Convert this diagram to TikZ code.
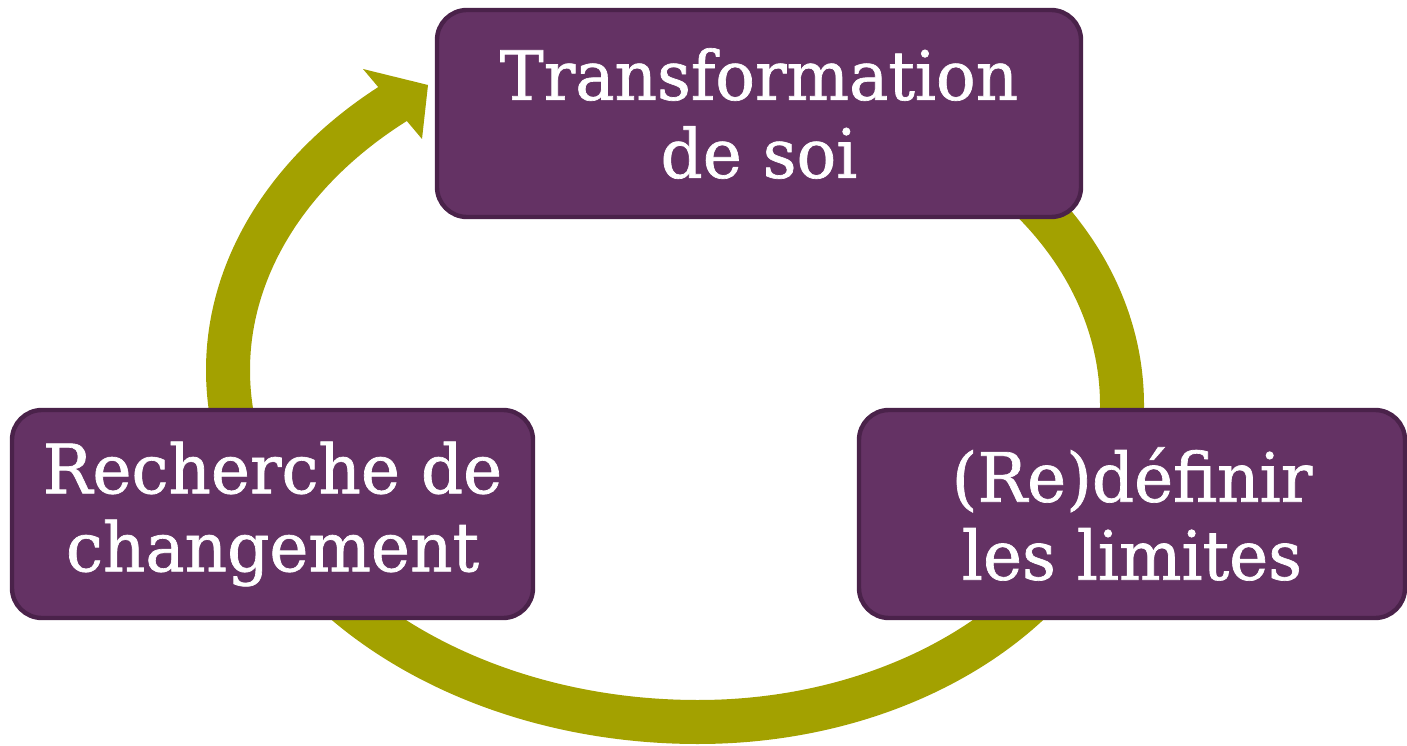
\documentclass[tikz,border=0pt]{standalone}
\usepackage{fontspec}
\setmainfont{DejaVu Serif}[FakeStretch=0.97, FakeBold=1]
\definecolor{boxfill}{RGB}{100,50,100}
\definecolor{boxline}{RGB}{74,34,74}
\definecolor{ringcol}{RGB}{163,161,0}
\begin{document}
\begin{tikzpicture}[x=0.5pt,y=0.5pt,
  stagebox/.style={draw=boxline, fill=boxfill, line width=2.2pt, rounded corners=15pt,
    text=white, align=center, font=\fontsize{34pt}{39pt}\selectfont, inner sep=0pt},
  ringline/.style={draw=ringcol, line width=22pt},
  ringhead/.style={fill=ringcol}]
\useasboundingbox (0,0) rectangle (1407,745);
% cycle ring (behind the boxes)
\coordinate (ringstart) at (698,672);
\draw[ringline] (ringstart)
  arc[start angle=90, end angle=0, x radius=424, y radius=332]
  arc[start angle=0, end angle=-90, x radius=424, y radius=317]
  arc[start angle=-90, end angle=-180, x radius=470, y radius=352]
  arc[start angle=180, end angle=129.5, x radius=470, y radius=350] coordinate (ringend);
\coordinate (headA) at (363,676);
\coordinate (headtip) at (428,660);
\coordinate (headB) at (422,606);
\fill[ringhead] (headA) -- (headtip) -- (headB) -- cycle;
% stages
\node[stagebox, minimum width=322pt, minimum height=103.5pt] (top) at (759,631.5) {Transformation\\de soi};
\node[stagebox, minimum width=260.5pt, minimum height=104pt] (left) at (272.5,231) {Recherche de\\changement};
\node[stagebox, minimum width=273pt, minimum height=104pt] (right) at (1132,231) {(Re)définir\\les limites};
\end{tikzpicture}
\end{document}
